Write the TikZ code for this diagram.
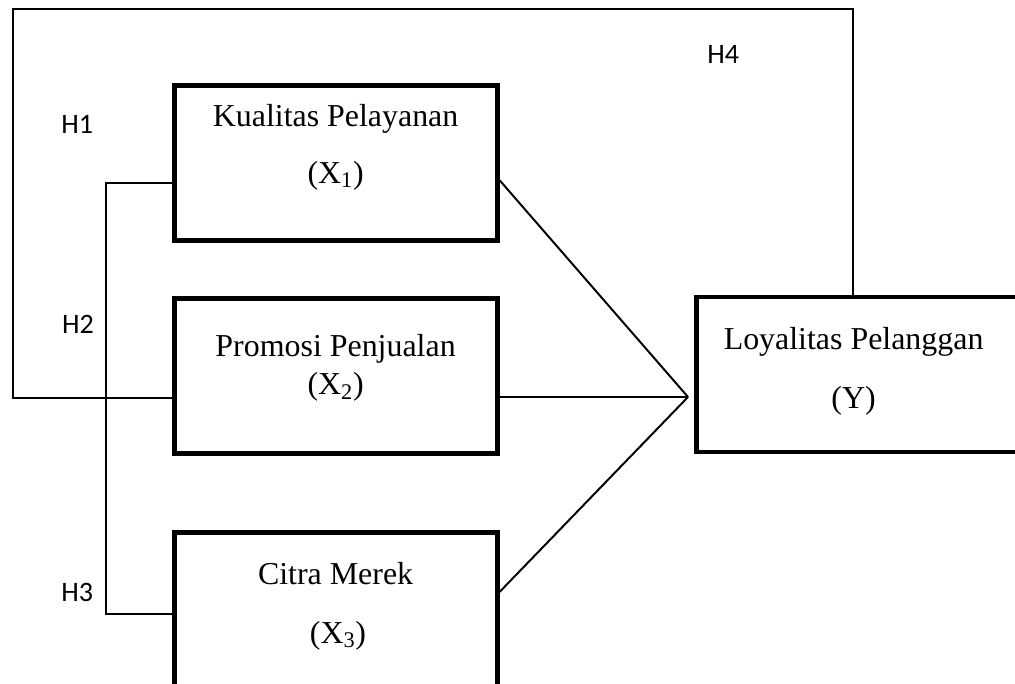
\documentclass[tikz,border=0pt]{standalone}
\usepackage{fontspec}
\setmainfont{Liberation Serif}
\newfontfamily\hfont{Carlito}
\usetikzlibrary{positioning, calc}

\tikzset{
  varbox/.style={draw, line width=3.5pt, minimum width=8.075cm, minimum height=3.875cm, inner sep=0pt},
  vartext/.style={font=\fontsize{22.7}{27}\selectfont, anchor=base, inner sep=0pt},
  hyp/.style={font=\hfont\fontsize{20}{24}\selectfont, anchor=base, inner sep=0pt},
  link/.style={line width=1.4pt}
}

\begin{document}
\begin{tikzpicture}
    \clip (0,0) rectangle (25.375,17.1);
    % Variables
    \node[varbox] (kp) at (8.39,13.02) {};
    \node[vartext] at (8.39,13.93) {Kualitas Pelayanan};
    \node[vartext] at (8.39,12.52) {(X\textsubscript{1})};
    \node[varbox] (pp) at (8.39,7.70) {};
    \node[vartext] at (8.39,8.18) {Promosi Penjualan};
    \node[vartext] at (8.39,7.225) {(X\textsubscript{2})};
    \node[varbox] (cmk) at (8.39,1.85) {};
    \node[vartext] at (8.39,2.475) {Citra Merek};
    \node[vartext] at (8.45,1.02) {(X\textsubscript{3})};
    \node[varbox, minimum width=8.25cm] (ly) at (21.54,7.7375) {};
    \node[vartext] at (21.34,8.37) {Loyalitas Pelanggan};
    \node[vartext] at (21.34,6.89) {(Y)};
    % Paths
    \coordinate (hub) at (17.2,7.175);
    \coordinate (tl) at (0.333,16.875);
    \draw[link] ([yshift=-0.425cm]kp.east) -- (hub);
    \draw[link] ([yshift=-0.525cm]pp.east) -- (hub);
    \draw[link] ([yshift=0.45cm]cmk.east) -- (hub);
    \draw[link] ([yshift=-0.54cm]pp.west) -| (tl) -| ([xshift=-0.21cm]ly.north);
    \draw[link] ([yshift=-0.5cm]kp.west) -- ++(-1.64,0) |- ([yshift=-0.1cm]cmk.west);
    % Hypotheses
    \node[hyp] (h1) at (1.93,13.77) {H1};
    \node[hyp] (h2) at (1.95,8.77) {H2};
    \node[hyp] (h3) at (1.93,2.06) {H3};
    \node[hyp] (h4) at (18.08,15.52) {H4};
\end{tikzpicture}
\end{document}
